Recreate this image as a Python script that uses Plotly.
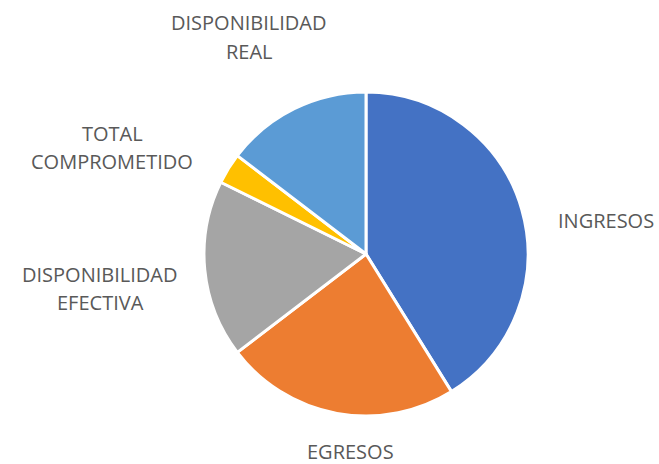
import plotly.graph_objects as go

categories = ["INGRESOS", "EGRESOS", "DISPONIBILIDAD EFECTIVA", "TOTAL COMPROMETIDO", "DISPONIBILIDAD REAL"]
values = [100, 57, 43, 7.5, 35.5]
colors = ["#4472C4", "#ED7D31", "#A5A5A5", "#FFC000", "#5B9BD5"]

# label text lines and their pixel centers (x, y from top)
label_lines = [
    ("DISPONIBILIDAD", 249, 22), ("REAL", 249, 52),
    ("TOTAL", 112, 133), ("COMPROMETIDO", 112, 161),
    ("DISPONIBILIDAD", 100, 274), ("EFECTIVA", 100, 302),
    ("INGRESOS", 606, 221),
    ("EGRESOS", 350, 451),
]

W, H = 659, 464
cx, cy, r = 366, 254, 162

fig = go.Figure(go.Pie(
    labels=categories, values=values, sort=False, direction="clockwise", rotation=0,
    marker=dict(colors=colors, line=dict(color="white", width=3)),
    textinfo="none", hoverinfo="label+value",
    domain=dict(x=[(cx - r) / W, (cx + r) / W], y=[1 - (cy + r) / H, 1 - (cy - r) / H]),
))

for txt, x, y in label_lines:
    fig.add_annotation(text=txt, x=x / W, y=1 - y / H, xref="paper", yref="paper",
                       showarrow=False, xanchor="center", yanchor="middle",
                       font=dict(family="Open Sans", size=20, color="#595959"))

fig.update_layout(width=W, height=H, margin=dict(l=0, r=0, t=0, b=0),
                  showlegend=False, paper_bgcolor="white", plot_bgcolor="white")
fig.write_html("out.html", config={"displayModeBar": False},
               post_script="document.body.style.margin='0';document.body.style.overflow='hidden';")
